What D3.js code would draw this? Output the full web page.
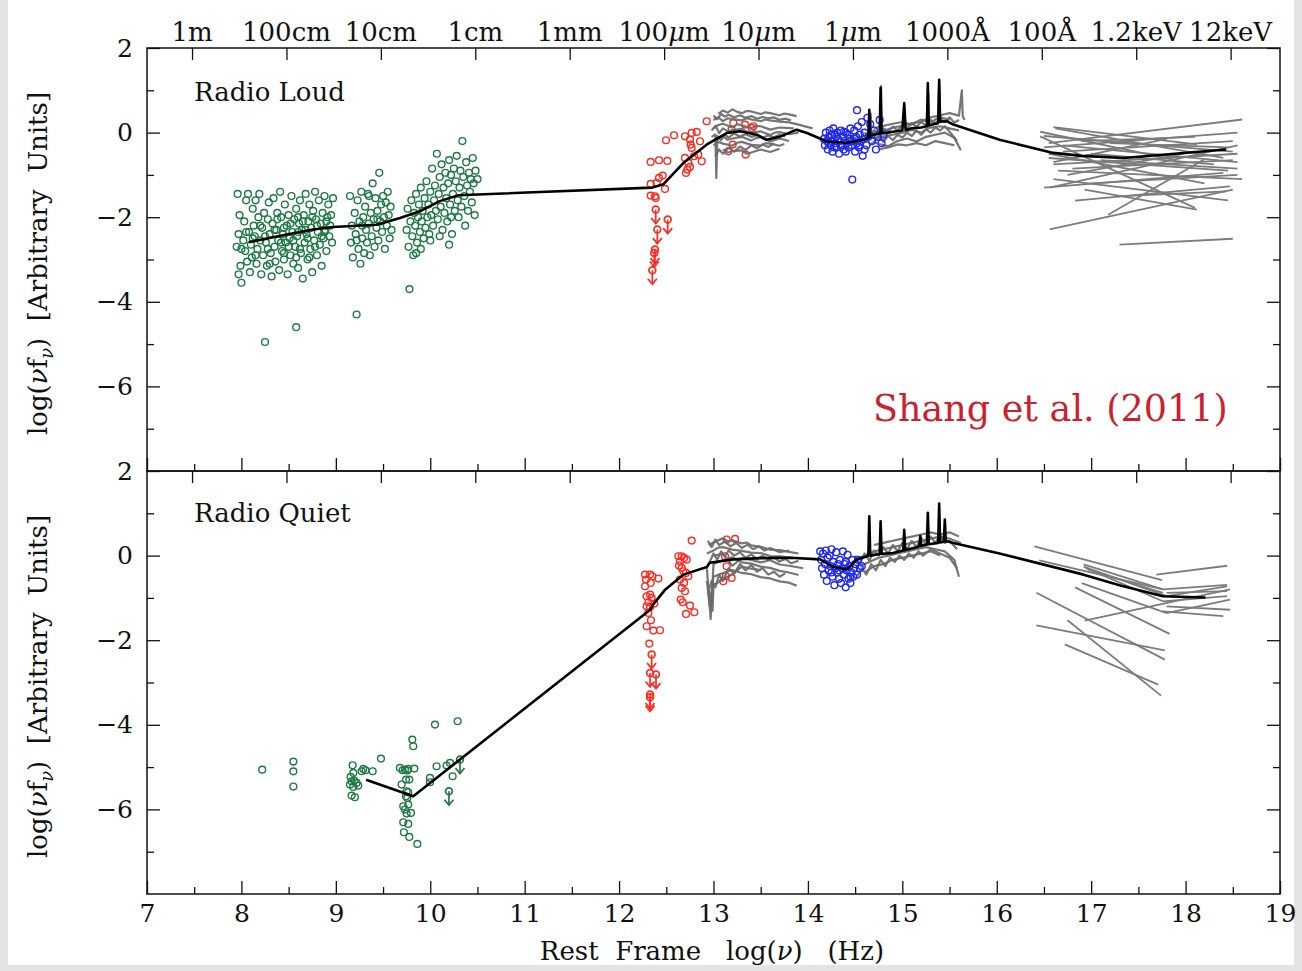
<!DOCTYPE html>
<html><head><meta charset="utf-8">
<script src="https://cdn.jsdelivr.net/npm/d3@7"></script>
<style>
body{margin:0;background:#e4e4e4;}
svg{display:block;}
text{font-family:"DejaVu Serif",serif;fill:#111;white-space:pre;}
</style></head><body>
<svg id="c" width="1302" height="971"></svg>
<script>
// ---------- axis / label data ----------
const xTickValues=[7,8,9,10,11,12,13,14,15,16,17,18,19];
const xMinorValues=[7.5,8.5,9.5,10.5,11.5,12.5,13.5,14.5,15.5,16.5,17.5,18.5];
const yMajorValues=[-6,-4,-2,0,2];
const yMinorValues=[-7,-5,-3,-1,1];
const waveTickPos=[7.477,8.477,9.477,10.477,11.477,12.477,13.477,14.477,15.477,16.477,17.477,18.477];
const waveLabels=["1m","100cm","10cm","1cm","1mm","100μm","10μm","1μm","1000Å","100Å","1.2keV","12keV"];
const panelNames=["Radio Loud","Radio Quiet"];

// ---------- Radio Loud (top) ----------
const loudRadio=[[7.96,-1.45],[7.98,-1.95],[7.97,-2.4],[7.95,-2.7],[7.99,-3.15],[7.97,-3.35],[8.0,-3.55],[8.02,-2.55],[8.03,-2.1],[8.05,-1.6],[8.04,-2.8],[8.06,-3.05],[8.07,-1.45],[8.08,-2.35],[8.1,-2.65],[8.09,-3.3],[8.12,-1.8],[8.13,-2.2],[8.11,-2.95],[8.14,-2.45],[8.15,-1.6],[8.16,-3.1],[8.17,-2.75],[8.18,-2.0],[8.19,-1.45],[8.2,-2.55],[8.21,-3.35],[8.22,-2.25],[8.23,-2.9],[8.24,-1.9],[8.25,-4.95],[8.26,-2.6],[8.27,-3.15],[8.28,-2.05],[8.29,-1.65],[8.3,-2.4],[8.31,-2.85],[8.32,-3.4],[8.33,-2.15],[8.34,-1.55],[8.35,-2.7],[8.36,-3.05],[8.37,-2.3],[8.38,-1.9],[8.39,-2.55],[8.4,-3.25],[8.41,-1.4],[8.42,-2.0],[8.43,-2.8],[8.44,-2.4],[8.45,-3.0],[8.46,-1.7],[8.47,-2.6],[8.48,-2.2],[8.49,-3.35],[8.5,-1.95],[8.51,-2.5],[8.52,-2.9],[8.53,-1.5],[8.54,-2.35],[8.55,-3.1],[8.56,-2.05],[8.57,-2.7],[8.58,-4.6],[8.58,-1.8],[8.59,-2.45],[8.6,-3.2],[8.61,-2.15],[8.62,-1.6],[8.63,-2.85],[8.64,-2.3],[8.65,-3.45],[8.66,-1.95],[8.67,-2.6],[8.68,-1.45],[8.69,-2.4],[8.7,-3.0],[8.71,-2.1],[8.72,-1.7],[8.73,-2.75],[8.74,-2.25],[8.75,-3.3],[8.76,-1.85],[8.77,-2.55],[8.78,-1.4],[8.79,-2.05],[8.8,-2.9],[8.81,-2.35],[8.82,-1.6],[8.83,-2.65],[8.84,-2.15],[8.85,-3.15],[8.86,-1.9],[8.87,-2.5],[8.88,-1.5],[8.89,-2.3],[8.9,-2.8],[8.91,-2.0],[8.92,-1.7],[8.93,-2.45],[8.94,-2.2],[8.95,-1.95],[8.96,-2.6],[8.97,-1.55],
[8.45,-2.25],[8.5,-2.7],[8.55,-2.55],[8.6,-2.35],[8.65,-2.1],[8.7,-2.5],[8.75,-2.0],[8.8,-2.2],[8.85,-2.45],[8.9,-2.1],[8.62,-2.75],[8.72,-2.95],[8.52,-2.15],[8.42,-2.6],[8.35,-2.3],[8.28,-2.75],[8.2,-2.2],[8.12,-2.5],[8.05,-2.35],[8.0,-2.75],[8.15,-2.9],[8.3,-3.1],[8.45,-2.85],[8.6,-2.0],[8.78,-2.7],[8.88,-2.35],[8.68,-2.3],[8.58,-2.95],[8.38,-2.05],[8.25,-2.45],
[9.15,-1.5],[9.17,-2.2],[9.16,-2.6],[9.18,-2.95],[9.2,-1.9],[9.21,-2.4],[9.22,-4.3],[9.23,-1.6],[9.24,-2.75],[9.25,-2.1],[9.26,-3.1],[9.27,-1.4],[9.28,-2.5],[9.29,-2.0],[9.3,-2.85],[9.31,-1.75],[9.32,-2.3],[9.33,-2.6],[9.34,-1.45],[9.35,-2.15],[9.36,-2.9],[9.37,-1.9],[9.38,-2.45],[9.39,-1.2],[9.4,-2.05],[9.41,-2.7],[9.42,-1.55],[9.43,-2.25],[9.44,-1.85],[9.45,-2.55],[9.46,-0.95],[9.47,-2.1],[9.48,-1.7],[9.49,-2.35],[9.5,-1.5],[9.51,-2.0],[9.52,-2.75],[9.53,-1.65],[9.54,-2.2],[9.55,-1.4],[9.56,-1.95],[9.57,-2.5],[9.58,-1.75],[9.59,-2.3],[9.35,-1.5],[9.28,-2.2],[9.44,-2.05],[9.22,-2.55],
[9.75,-2.3],[9.76,-1.8],[9.77,-2.7],[9.78,-3.7],[9.79,-2.1],[9.8,-1.6],[9.81,-2.45],[9.82,-2.9],[9.83,-1.9],[9.84,-2.2],[9.85,-1.45],[9.86,-2.6],[9.87,-2.0],[9.88,-1.7],[9.89,-2.35],[9.9,-1.3],[9.91,-2.1],[9.92,-1.85],[9.93,-2.5],[9.94,-1.55],[9.95,-2.25],[9.96,-1.15],[9.97,-2.0],[9.98,-1.7],[9.99,-2.4],[10.0,-1.4],[10.01,-1.95],[10.02,-0.85],[10.03,-2.2],[10.04,-1.6],[10.05,-1.25],[10.06,-1.85],[10.07,-0.5],[10.08,-2.05],[10.09,-1.45],[10.1,-1.05],[10.11,-1.75],[10.12,-0.75],[10.13,-2.3],[10.14,-1.3],[10.15,-1.9],[10.16,-0.95],[10.17,-1.55],[10.18,-2.1],[10.19,-1.2],[10.2,-0.65],[10.21,-1.7],[10.22,-1.0],[10.23,-2.4],[10.24,-1.45],[10.25,-0.85],[10.26,-1.85],[10.27,-1.15],[10.28,-0.55],[10.29,-1.6],[10.3,-2.0],[10.31,-1.3],[10.32,-0.9],[10.33,-1.75],[10.34,-0.2],[10.35,-1.05],[10.36,-1.5],[10.37,-2.2],[10.38,-0.7],[10.39,-1.25],[10.4,-1.85],[10.41,-0.95],[10.42,-1.4],[10.43,-1.1],[10.44,-1.65],[10.45,-0.6],[10.46,-1.2],[10.47,-1.95],[10.48,-0.9],[10.5,-1.1],[9.9,-2.75],[10.0,-2.55],[10.1,-2.45],[9.85,-2.85],[10.22,-2.0],[10.2,-2.65]];
const loudFIR=[[12.335,-0.693],[12.423,-0.654],[12.511,-0.670],[12.497,-0.181],[12.582,-0.063],[12.335,-1.213],[12.398,-1.190],[12.423,-1.072],[12.462,-1.016],[12.335,-1.489],[12.380,-1.505],[12.388,-1.544],[12.486,-1.332],[12.698,-0.087],[12.769,-0.008],[12.822,0.016],[12.751,-0.165],[12.758,-0.284],[12.857,-0.205],[12.928,0.268],[12.698,-0.599],[12.734,-0.717],[12.751,-0.812],[12.709,-0.953],[12.723,-0.875],[12.794,-0.559],[12.839,-0.520],[12.875,-0.678],[12.769,-0.362],[13.210,0.229],[13.192,0.071],[13.334,0.189],[13.404,0.110],[13.341,-0.520],[13.157,-0.441],[13.203,-0.284],[13.422,0.150]];
const loudFIRLimits=[[12.388,-1.82],[12.405,-2.293],[12.380,-2.766],[12.373,-2.845],[12.352,-3.254],[12.515,-2.057]];
const loudOpt=[[14.17,-0.15],[14.18,-0.3],[14.19,0.0],[14.2,-0.2],[14.21,-0.4],[14.22,-0.1],[14.23,0.05],[14.24,-0.3],[14.25,-0.2],[14.26,-0.45],[14.27,0.1],[14.28,-0.05],[14.29,-0.25],[14.3,-0.35],[14.31,0.0],[14.32,-0.15],[14.33,-0.5],[14.34,-0.2],[14.35,0.05],[14.36,-0.3],[14.37,-0.1],[14.38,-0.4],[14.39,-0.2],[14.4,0.0],[14.41,-0.25],[14.42,-0.05],[14.43,-0.35],[14.44,-0.15],[14.45,0.1],[14.46,-0.3],[14.47,-1.11],[14.48,-0.2],[14.49,0.05],[14.5,-0.45],[14.51,-0.1],[14.52,-0.25],[14.53,0.15],[14.54,-0.35],[14.55,-0.05],[14.56,-0.2],[14.57,0.25],[14.58,-0.55],[14.59,-0.15],[14.6,0.0],[14.62,-0.3],[14.63,0.35],[14.64,-0.1],[14.66,0.2],[14.68,-0.2],[14.7,0.05],[14.72,-0.4],[14.74,-0.1],[14.76,0.3],[14.78,-0.25],[14.8,-0.05],[14.52,0.53],[14.22,-0.25],[14.3,-0.1],[14.4,-0.45],[14.35,-0.3],[14.45,-0.2],[14.25,-0.05],[14.55,-0.3],[14.28,-0.35],[14.38,0.02],[14.5,-0.15],[14.6,-0.4]];
const loudMean=[[8.08,-2.59],[8.48,-2.41],[8.76,-2.29],[8.97,-2.23],[9.43,-2.18],[9.68,-2.02],[9.89,-1.86],[10.10,-1.62],[10.30,-1.48],[12.35,-1.30],[12.47,-1.22],[12.68,-0.72],[12.93,-0.28],[13.14,-0.01],[13.28,0.03],[13.46,-0.05],[13.56,-0.17],[13.70,-0.10],[13.88,0.07],[13.99,-0.01],[14.20,-0.21],[14.41,-0.24],[14.59,-0.17],[14.64,-0.12],[14.65,0.54],[14.66,-0.1],[14.69,-0.05],[14.76,-0.03],[14.77,1.06],[14.78,-0.02],[14.83,-0.01],[14.9,0.02],[15.0,0.05],[15.02,0.70],[15.035,0.06],[15.1,0.1],[15.2,0.12],[15.26,0.15],[15.27,1.17],[15.28,0.17],[15.33,0.2],[15.38,0.22],[15.39,1.25],[15.40,0.26],[15.47,0.27],[15.54,0.19],[16.03,-0.17],[16.60,-0.48],[16.9,-0.55],[17.34,-0.60],[18.43,-0.40]];
const loudIR=[
[[13.05,0.45],[13.1,0.52],[13.15,0.47],[13.2,0.55],[13.25,0.49],[13.3,0.46],[13.35,0.51],[13.4,0.5],[13.5,0.44],[13.55,0.48],[13.6,0.46],[13.7,0.41],[13.75,0.45],[13.8,0.43],[13.88,0.39]],
[[13.0,0.3],[13.05,0.36],[13.1,0.27],[13.15,0.34],[13.2,0.32],[13.3,0.29],[13.35,0.34],[13.4,0.31],[13.5,0.27],[13.55,0.31],[13.6,0.29],[13.7,0.26],[13.8,0.24],[13.9,0.19],[14.05,0.1]],
[[12.98,0.05],[13.02,0.16],[13.06,-0.01],[13.1,0.1],[13.15,0.03],[13.2,0.06],[13.3,0.09],[13.35,0.02],[13.4,0.0],[13.5,0.03],[13.6,-0.06],[13.65,0.0],[13.7,0.01],[13.8,-0.04],[13.9,0.0]],
[[12.98,-0.1],[13.02,-0.04],[13.03,-1.07],[13.04,-0.16],[13.1,-0.09],[13.15,-0.17],[13.2,-0.14],[13.3,-0.1],[13.4,-0.19],[13.45,-0.13],[13.5,-0.11],[13.6,-0.21],[13.7,-0.14],[13.8,-0.2]],
[[13.0,-0.3],[13.05,-0.22],[13.1,-0.26],[13.2,-0.31],[13.25,-0.24],[13.3,-0.22],[13.4,-0.29],[13.5,-0.31],[13.55,-0.25],[13.6,-0.26],[13.7,-0.31],[13.75,-0.27]],
[[13.1,-0.4],[13.15,-0.47],[13.2,-0.44],[13.3,-0.42],[13.35,-0.5],[13.4,-0.47],[13.5,-0.4],[13.6,-0.46],[13.7,-0.38]],
[[13.0,0.1],[13.05,0.18],[13.1,0.21],[13.2,0.12],[13.25,0.2],[13.3,0.17],[13.4,0.1],[13.45,0.16],[13.5,0.15],[13.6,0.07],[13.7,0.12],[13.85,0.1]],
[[13.0,0.4],[13.04,0.32],[13.08,0.44],[13.12,0.38],[13.16,0.42],[13.22,0.36],[13.28,0.41],[13.34,0.35],[13.4,0.39],[13.46,0.33],[13.52,0.37],[13.58,0.34],[13.64,0.36],[13.7,0.3],[13.76,0.33],[13.82,0.29]],
[[13.0,-0.2],[13.04,-0.08],[13.08,-0.18],[13.12,-0.05],[13.16,-0.12],[13.22,-0.02],[13.28,-0.09],[13.34,-0.04],[13.4,-0.1],[13.46,-0.06],[13.52,-0.12],[13.58,-0.07],[13.64,-0.11],[13.7,-0.05],[13.76,-0.09]],
[[13.02,-0.55],[13.06,-0.4],[13.1,-0.5],[13.16,-0.36],[13.22,-0.45],[13.28,-0.33],[13.34,-0.41],[13.4,-0.3],[13.46,-0.37],[13.52,-0.28],[13.58,-0.34],[13.64,-0.25]]];
const loudUV=[
[[14.62,-0.1],[14.7,0.0],[14.77,0.02],[14.775,1.1],[14.78,0.05],[14.85,0.08],[14.9,0.12],[15.0,0.16],[15.1,0.22],[15.2,0.26],[15.3,0.36],[15.4,0.41],[15.5,0.46],[15.6,0.4],[15.63,1.0],[15.64,0.38],[15.66,0.3]],
[[14.65,-0.3],[14.7,-0.22],[14.75,-0.27],[14.85,-0.32],[14.95,-0.2],[15.05,-0.14],[15.15,-0.21],[15.25,-0.1],[15.35,-0.05],[15.45,0.0],[15.55,-0.12],[15.62,-0.42]],
[[14.7,0.1],[14.8,0.16],[14.9,0.21],[15.0,0.25],[15.1,0.19],[15.2,0.31],[15.3,0.24],[15.38,0.35],[15.39,1.15],[15.4,0.36],[15.5,0.3]],
[[14.6,-0.2],[14.66,-0.12],[14.665,0.45],[14.67,-0.13],[14.8,-0.09],[14.9,-0.05],[15.0,0.0],[15.1,0.06],[15.2,0.0],[15.27,0.1],[15.275,0.9],[15.28,0.11],[15.4,0.15],[15.5,0.1],[15.6,0.05]],
[[14.75,-0.4],[14.85,-0.35],[14.95,-0.28],[15.05,-0.3],[15.15,-0.25],[15.25,-0.3],[15.35,-0.2],[15.45,-0.25],[15.55,-0.3]],
[[14.6,0.0],[14.65,-0.08],[14.7,0.06],[14.75,-0.02],[14.8,0.1],[14.85,0.02],[14.9,0.14],[14.95,0.05],[15.0,0.18],[15.05,0.1],[15.1,0.22],[15.15,0.14],[15.2,0.25],[15.25,0.17],[15.3,0.3],[15.35,0.22],[15.4,0.33],[15.45,0.25],[15.5,0.36],[15.55,0.24],[15.6,0.3]],
[[14.7,-0.2],[14.75,-0.1],[14.8,-0.22],[14.85,-0.08],[14.9,-0.18],[14.95,-0.05],[15.0,-0.12],[15.05,0.0],[15.1,-0.08],[15.15,0.05],[15.2,-0.05],[15.25,0.08],[15.3,0.0],[15.35,0.12],[15.4,0.05],[15.45,0.15],[15.5,0.02],[15.58,-0.2]]];
const loudXray=[[16.60,0.13,18.12,-0.28],[16.46,0.02,17.90,-0.65],[16.50,-0.08,18.50,-0.45],[16.55,-0.25,18.60,0.31],[16.50,-0.35,18.55,0.0],[16.62,0.10,18.40,-0.60],[16.70,-0.45,18.50,-0.20],[16.55,-0.60,18.45,-0.90],[16.60,-0.75,18.55,-0.50],[16.65,-0.90,18.60,-1.10],[16.56,-1.30,18.55,-0.30],[16.60,-1.10,18.45,-1.60],[16.90,-0.20,18.10,-0.10],[17.20,-0.25,18.45,-0.35],[17.00,-0.50,18.30,-0.75],[16.93,-1.35,18.12,-1.82],[16.83,-1.61,18.47,-1.27],[16.56,-2.29,18.50,-1.35],[17.18,-1.94,18.19,-0.64],[17.27,-1.51,18.43,-1.39],[17.30,-2.65,18.50,-2.51],[16.50,-1.30,18.40,-0.95],[16.70,-0.30,18.55,-0.70],[16.80,-0.85,18.50,-0.65],[16.60,-0.70,17.80,-0.15],[17.10,-0.65,18.55,-0.85],[16.46,-0.09,18.10,-1.78],[16.55,-0.50,18.20,-1.20],[17.00,-1.20,18.55,-1.00],[16.75,-1.00,18.10,-0.45]];

// ---------- Radio Quiet (bottom) ----------
const quietRadio=[[9.178,-4.956],[9.185,-5.138],[9.157,-5.232],[9.167,-5.335],[9.195,-5.319],[9.220,-5.374],[9.150,-5.413],[9.185,-5.469],[9.238,-5.437],[9.167,-5.674],[9.202,-5.713],[9.273,-5.098],[9.291,-5.043],[9.315,-5.075],[9.390,-5.098],[9.478,-4.799],[9.679,-5.019],[9.707,-5.075],[9.732,-5.059],[9.757,-5.082],[9.767,-5.043],[9.831,-5.035],[9.743,-5.295],[9.778,-5.295],[9.697,-5.413],[9.750,-5.571],[9.767,-5.595],[9.743,-5.689],[9.757,-5.729],[9.714,-5.926],[9.767,-5.886],[9.732,-6.004],[9.750,-6.099],[9.796,-6.083],[9.714,-6.304],[9.767,-6.343],[9.721,-6.540],[9.778,-6.651],[9.863,-6.816],[9.810,-4.350],[9.820,-4.507],[10.050,-3.995],[10.290,-3.916],[10.067,-4.980],[10.173,-4.964],[10.209,-4.901],[10.237,-5.216],[9.997,-5.256],[9.997,-5.358],[8.22,-5.06],[8.55,-4.87],[8.55,-5.10],[8.55,-5.46]];
const quietRadioLimits=[[10.315,-4.822],[10.198,-5.571]];
const quietFIR=[[12.275,-0.449],[12.328,-0.449],[12.352,-0.488],[12.285,-0.567],[12.335,-0.646],[12.275,-0.725],[12.416,-0.543],[12.292,-0.961],[12.328,-0.922],[12.345,-1.000],[12.310,-1.103],[12.373,-1.134],[12.292,-1.197],[12.328,-1.213],[12.310,-1.355],[12.338,-1.528],[12.292,-1.670],[12.363,-1.773],[12.433,-1.765],[12.320,-2.080],[12.628,-0.015],[12.663,-0.015],[12.688,-0.055],[12.645,-0.134],[12.716,-0.094],[12.635,-0.236],[12.663,-0.291],[12.681,-0.370],[12.709,-0.410],[12.734,-0.488],[12.645,-0.567],[12.688,-0.646],[12.663,-0.764],[12.698,-0.843],[12.652,-1.040],[12.674,-1.103],[12.751,-1.182],[12.709,-1.379],[12.797,-1.339],[12.769,0.355],[13.139,0.379],[13.228,0.394],[13.122,-0.015],[13.139,-0.252],[13.132,-0.488],[13.192,-0.528],[13.104,-0.606]];
const quietFIRLimits=[[12.345,-2.34],[12.328,-2.774],[12.391,-2.813],[12.328,-3.286],[12.328,-3.35]];
const quietOpt=[[14.13,0.1],[14.14,-0.1],[14.15,-0.3],[14.16,0.05],[14.17,-0.45],[14.18,-0.2],[14.19,0.12],[14.2,-0.6],[14.21,-0.05],[14.22,-0.35],[14.23,0.0],[14.24,-0.25],[14.25,0.15],[14.26,-0.5],[14.27,-0.15],[14.28,-0.7],[14.29,-0.3],[14.3,0.08],[14.31,-0.4],[14.32,-0.2],[14.33,-0.55],[14.34,-0.1],[14.35,-0.65],[14.36,-0.3],[14.37,0.1],[14.38,-0.45],[14.39,-0.2],[14.4,-0.75],[14.41,-0.35],[14.42,0.02],[14.43,-0.55],[14.44,-0.25],[14.45,-0.65],[14.46,-0.4],[14.47,-0.1],[14.48,-0.5],[14.49,-0.3],[14.5,-0.2],[14.52,-0.45],[14.53,-0.1],[14.55,-0.3],[14.57,-0.25],[14.33,-0.35],[14.4,-0.15],[14.25,-0.4],[14.45,-0.5]];
const quietMean=[[9.32,-5.30],[9.82,-5.69],[12.33,-1.28],[12.36,-1.16],[12.49,-0.80],[12.68,-0.45],[12.93,-0.27],[12.96,-0.17],[13.21,-0.09],[13.5,-0.06],[13.81,-0.05],[14.13,-0.09],[14.27,-0.27],[14.41,-0.33],[14.52,-0.09],[14.62,-0.02],[14.64,0.0],[14.65,0.93],[14.66,0.0],[14.76,0.04],[14.77,0.81],[14.78,0.04],[14.9,0.06],[15.01,0.12],[15.02,0.61],[15.03,0.13],[15.15,0.2],[15.18,0.22],[15.19,0.46],[15.2,0.23],[15.26,0.26],[15.27,1.01],[15.28,0.27],[15.38,0.3],[15.39,1.23],[15.40,0.31],[15.44,0.33],[15.45,0.85],[15.46,0.34],[15.47,0.34],[15.54,0.30],[16.03,0.05],[16.92,-0.45],[17.3,-0.7],[17.76,-0.96],[18.21,-0.99]];
const quietIR=[
[[12.95,0.25],[13.0,0.31],[13.05,0.36],[13.1,0.41],[13.15,0.34],[13.2,0.36],[13.3,0.29],[13.35,0.31],[13.4,0.24],[13.5,0.21],[13.6,0.14],[13.7,0.13],[13.8,0.09],[13.9,0.05]],
[[12.93,0.05],[13.0,0.12],[13.05,0.19],[13.1,0.2],[13.2,0.14],[13.3,0.11],[13.4,0.07],[13.5,0.06],[13.6,-0.01],[13.7,-0.02],[13.85,-0.06]],
[[12.93,-0.3],[12.97,-1.5],[13.0,-0.2],[13.1,-0.11],[13.2,-0.04],[13.3,-0.16],[13.4,-0.19],[13.5,-0.26],[13.6,-0.29],[13.7,-0.36],[13.8,-0.4],[13.9,-0.46]],
[[12.93,-0.6],[12.96,-1.2],[13.0,-0.5],[13.1,-0.41],[13.2,-0.34],[13.3,-0.41],[13.4,-0.44],[13.5,-0.51],[13.6,-0.54],[13.7,-0.61],[13.8,-0.64],[13.88,-0.71]],
[[12.95,-0.8],[12.99,-1.3],[13.0,-0.7],[13.1,-0.56],[13.2,-0.44],[13.3,-0.26],[13.4,-0.31],[13.5,-0.34]],
[[13.0,0.0],[13.1,0.04],[13.2,-0.24],[13.3,-0.06],[13.4,-0.1],[13.5,-0.16],[13.6,-0.11],[13.7,-0.21],[13.8,-0.24],[13.95,-0.3]],
[[12.95,-0.2],[13.0,0.05],[13.04,-0.1],[13.08,0.1],[13.12,-0.02],[13.16,0.12],[13.22,0.0],[13.28,0.08],[13.34,-0.05],[13.4,0.03],[13.46,-0.08],[13.52,0.0],[13.58,-0.1],[13.64,-0.04],[13.7,-0.14],[13.76,-0.08],[13.82,-0.18],[13.9,-0.12]],
[[12.94,-0.9],[12.98,-0.6],[13.02,-0.75],[13.06,-0.45],[13.1,-0.6],[13.16,-0.3],[13.22,-0.42],[13.28,-0.2],[13.34,-0.35],[13.4,-0.22],[13.46,-0.38],[13.52,-0.3],[13.58,-0.45],[13.64,-0.38],[13.7,-0.5],[13.76,-0.42]],
[[12.94,0.35],[12.98,0.2],[13.02,0.38],[13.06,0.25],[13.12,0.33],[13.18,0.22],[13.24,0.3],[13.3,0.18],[13.36,0.26],[13.42,0.15],[13.48,0.22],[13.54,0.12],[13.6,0.18],[13.7,0.08],[13.8,0.12]]];
const quietUV=[
[[14.5,-0.1],[14.6,0.0],[14.7,0.1],[14.8,0.15],[14.9,0.2],[15.0,0.25],[15.1,0.3],[15.2,0.35],[15.3,0.4],[15.4,0.45],[15.5,0.4],[15.62,0.3]],
[[14.55,-0.25],[14.65,-0.15],[14.75,-0.05],[14.85,0.0],[14.95,0.05],[15.05,0.1],[15.15,0.15],[15.25,0.2],[15.35,0.15],[15.45,0.1],[15.55,-0.1],[15.6,-0.5]],
[[14.6,-0.4],[14.7,-0.25],[14.8,-0.2],[14.9,-0.1],[15.0,-0.05],[15.1,0.0],[15.2,0.05],[15.3,0.1],[15.4,0.0]],
[[14.7,0.25],[14.8,0.3],[14.9,0.35],[15.0,0.4],[15.1,0.45],[15.2,0.5],[15.3,0.55],[15.4,0.5],[15.5,0.55],[15.6,0.45]],
[[14.5,0.0],[14.55,-0.2],[14.6,0.05],[14.65,-0.12],[14.7,0.12],[14.75,0.0],[14.8,0.2],[14.85,0.05],[14.9,0.25],[14.95,0.1],[15.0,0.3],[15.05,0.15],[15.1,0.35],[15.15,0.2],[15.2,0.42],[15.25,0.25],[15.3,0.45],[15.35,0.3],[15.4,0.48],[15.45,0.3],[15.5,0.35],[15.58,0.15]],
[[14.52,-0.5],[14.57,-0.3],[14.62,-0.45],[14.67,-0.2],[14.72,-0.35],[14.77,-0.1],[14.82,-0.25],[14.87,-0.05],[14.92,-0.15],[14.97,0.0],[15.02,-0.1],[15.07,0.05],[15.12,-0.05],[15.17,0.1],[15.22,0.0],[15.3,0.15],[15.4,0.05],[15.5,-0.05],[15.58,-0.3]]];
const quietXray=[[16.40,0.22,17.75,-0.58],[17.69,-0.45,18.44,-0.24],[16.45,-0.11,17.76,-0.80],[16.92,-0.21,17.76,-0.80],[17.76,-0.80,18.44,-0.69],[16.92,-0.26,17.80,-0.96],[17.80,-0.96,18.44,-0.73],[16.90,-0.65,17.80,-1.36],[17.80,-1.36,18.47,-1.04],[16.94,-0.29,17.76,-1.08],[17.76,-1.08,18.44,-0.96],[16.42,-0.88,17.78,-2.46],[16.83,-0.75,17.83,-1.85],[16.42,-1.65,17.78,-2.24],[16.75,-1.53,17.74,-3.31],[16.72,-2.10,17.71,-3.05],[16.93,-1.54,18.47,-0.80],[17.76,-1.32,18.40,-1.43],[17.80,-1.20,18.47,-1.28],[17.80,-0.88,18.44,-0.84],[16.97,-0.33,17.76,-0.88]];

// ---------- drawing ----------
const svg=d3.select("#c");
svg.append("rect").attr("x",8).attr("y",0).attr("width",1286).attr("height",965).attr("fill","#fff");

const x=d3.scaleLinear().domain([7,19]).range([147,1280]);
const yT=d3.scaleLinear().domain([-8,2]).range([471,48]);
const yB=d3.scaleLinear().domain([-8,2]).range([894,471]);

const GREEN="#1e7a43", RED="#ff2a1f", BLUE="#1f28f0", GRAY="#6a6a6a";

function panel(y, d, idx){
  const g=svg.append("g");
  const cid="clip"+idx;
  svg.append("clipPath").attr("id",cid).append("rect")
    .attr("x",x(7)).attr("y",y(2)).attr("width",x(19)-x(7)).attr("height",y(-8)-y(2));
  const p=g.append("g").attr("clip-path",`url(#${cid})`);
  const line=d3.line().x(v=>x(v[0])).y(v=>y(v[1]));
  p.append("g").selectAll("line").data(d.xray).join("line")
    .attr("x1",s=>x(s[0])).attr("y1",s=>y(s[1])).attr("x2",s=>x(s[2])).attr("y2",s=>y(s[3]))
    .attr("stroke","#7c7c7c").attr("stroke-width",1.8);
  const circ=(arr,col)=>p.append("g").selectAll("circle").data(arr).join("circle")
    .attr("cx",v=>x(v[0])).attr("cy",v=>y(v[1])).attr("r",3.4)
    .attr("fill","none").attr("stroke",col).attr("stroke-width",1.4);
  circ(d.radio,GREEN); circ(d.fir,RED);
  p.append("g").selectAll("path").data(d.ir.concat(d.uv)).join("path")
    .attr("d",line).attr("fill","none").attr("stroke",GRAY).attr("stroke-width",2.2).attr("stroke-linejoin","round").attr("opacity",0.92);
  circ(d.opt,BLUE);
  const lim=(arr,col)=>{
    const lg=p.append("g").selectAll("g").data(arr).join("g")
      .attr("transform",v=>`translate(${x(v[0])},${y(v[1])})`)
      .attr("stroke",col).attr("fill","none").attr("stroke-width",1.7);
    lg.append("circle").attr("r",3.4);
    lg.append("line").attr("x1",0).attr("y1",0).attr("x2",0).attr("y2",14);
    lg.append("path").attr("d","M-4.5,8.5L0,14L4.5,8.5");
  };
  lim(d.firLim,RED); lim(d.radioLim,GREEN);
  p.append("path").datum(d.mean).attr("d",line).attr("fill","none")
    .attr("stroke","#000").attr("stroke-width",2.6).attr("stroke-linejoin","round");
  return g;
}

panel(yT,{xray:loudXray,ir:loudIR,uv:loudUV,radio:loudRadio,fir:loudFIR,opt:loudOpt,firLim:loudFIRLimits,radioLim:[],mean:loudMean},0);
panel(yB,{xray:quietXray,ir:quietIR,uv:quietUV,radio:quietRadio,fir:quietFIR,opt:quietOpt,firLim:quietFIRLimits,radioLim:quietRadioLimits,mean:quietMean},1);

[yT,yB].forEach(y=>{
  svg.append("rect").attr("x",x(7)).attr("y",y(2)).attr("width",x(19)-x(7)).attr("height",y(-8)-y(2))
    .attr("fill","none").attr("stroke","#111").attr("stroke-width",1.5);
});

function styleAxis(g){
  g.select(".domain").remove();
  g.selectAll(".tick line").attr("stroke","#111").attr("stroke-width",1.3);
  g.selectAll("text").style("font-family","'DejaVu Serif',serif").style("font-size","25px").attr("fill","#111");
}
const fmt=d3.format("");
[yT,yB].forEach(y=>{
  svg.append("g").attr("transform",`translate(${x(7)},0)`).call(d3.axisLeft(y).tickValues(yMajorValues).tickSize(-13).tickPadding(14).tickFormat(fmt)).call(styleAxis);
  svg.append("g").attr("transform",`translate(${x(7)},0)`).call(d3.axisLeft(y).tickValues(yMinorValues).tickSize(-7).tickFormat("")).call(styleAxis);
  svg.append("g").attr("transform",`translate(${x(19)},0)`).call(d3.axisRight(y).tickValues(yMajorValues).tickSize(-13).tickFormat("")).call(styleAxis);
  svg.append("g").attr("transform",`translate(${x(19)},0)`).call(d3.axisRight(y).tickValues(yMinorValues).tickSize(-7).tickFormat("")).call(styleAxis);
  svg.append("g").attr("transform",`translate(0,${y(-8)})`).call(d3.axisBottom(x).tickValues(xTickValues).tickSize(-13).tickPadding(10).tickFormat(y===yB?fmt:"")).call(styleAxis);
  svg.append("g").attr("transform",`translate(0,${y(-8)})`).call(d3.axisBottom(x).tickValues(xMinorValues).tickSize(-7).tickFormat("")).call(styleAxis);
  svg.append("g").attr("transform",`translate(0,${y(2)})`).call(d3.axisTop(x).tickValues(waveTickPos).tickSize(-12).tickFormat("")).call(styleAxis);
});
const wl=svg.append("g");
waveLabels.forEach((lab,i)=>{
  const t=wl.append("text").attr("x",x(waveTickPos[i])).attr("y",41).attr("text-anchor","middle").style("font-size","26px");
  const m=lab.indexOf("μ");
  if(m>=0){
    t.append("tspan").text(lab.slice(0,m));
    t.append("tspan").style("font-style","italic").text("μ");
    t.append("tspan").text(lab.slice(m+1));
  } else t.text(lab);
});
[yT,yB].forEach(y=>{
  const cy=(y(2)+y(-8))/2+4;
  const t=svg.append("text").attr("transform",`translate(47,${cy}) rotate(-90)`).attr("text-anchor","middle").style("font-size","26px");
  t.append("tspan").text("log(");
  t.append("tspan").style("font-style","italic").text("ν");
  t.append("tspan").text("f");
  t.append("tspan").style("font-style","italic").style("font-size","18px").attr("dy",6).text("ν");
  t.append("tspan").attr("dy",-6).text(")  [Arbitrary  Units]");
});
const xt=svg.append("text").attr("x",712).attr("y",960).attr("text-anchor","middle").style("font-size","26px");
xt.append("tspan").text("Rest  Frame   log(");
xt.append("tspan").style("font-style","italic").text("ν");
xt.append("tspan").text(")   (Hz)");

svg.append("text").attr("x",194).attr("y",101).style("font-size","26px").text(panelNames[0]);
svg.append("text").attr("x",194).attr("y",522).style("font-size","26px").text(panelNames[1]);
svg.append("text").attr("x",873).attr("y",421).style("font-size","36.5px").style("fill","#cc1f2f").text("Shang et al. (2011)");
</script>
</body></html>
